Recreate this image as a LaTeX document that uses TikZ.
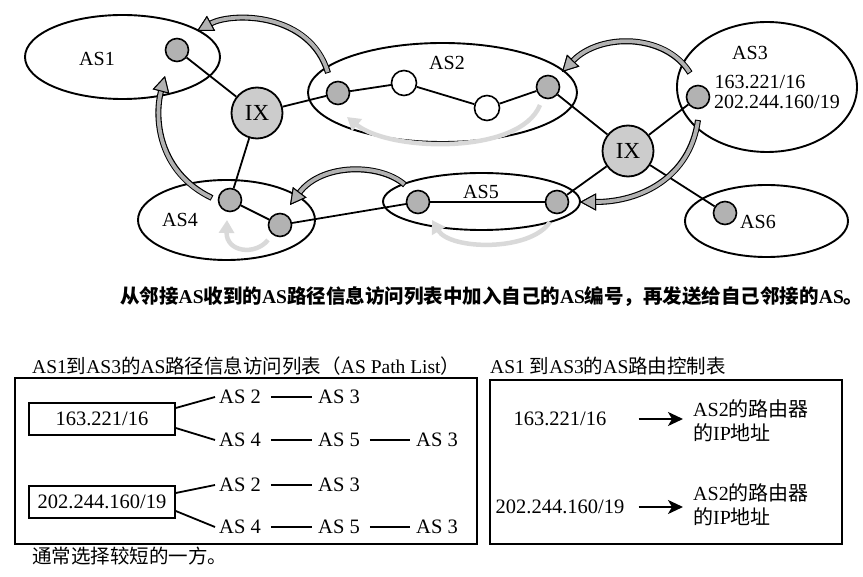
\documentclass[tikz,border=0pt]{standalone}
\usepackage{fontspec}
\setmainfont{Liberation Serif}
\newfontfamily\cjk{Noto Sans CJK SC}
\usetikzlibrary{arrows.meta}
\newcommand{\C}[1]{{\cjk #1}}
\begin{document}
\begin{tikzpicture}[x=1pt,y=-1pt,
  router/.style={circle, draw, line width=1.6pt, fill=gray!60, minimum size=23pt, inner sep=0pt},
  host/.style={circle, draw, line width=1.6pt, fill=white, minimum size=25pt, inner sep=0pt},
  ix/.style={circle, draw, line width=1.8pt, fill=gray!40, minimum size=51pt, inner sep=0pt, font=\fontsize{23}{23}\selectfont},
  link/.style={line width=1.8pt},
  asarea/.style={line width=1.9pt},
  lbl/.style={font=\fontsize{20}{22}\selectfont, inner sep=0pt},
  tbl/.style={font=\fontsize{20.5}{24}\selectfont, inner sep=0pt},
  ttl/.style={font=\fontsize{19.5}{22}\selectfont, inner sep=0pt, anchor=west},
  pbox/.style={draw, line width=1.5pt, minimum width=146pt, minimum height=32pt, inner sep=0pt, font=\fontsize{20.5}{24}\selectfont},
  darkout/.style={line width=6pt, black, -{Triangle[length=16pt,width=17pt,line width=1pt,fill=gray!60,color=black]}},
  darkin/.style={line width=3.8pt, gray!60, shorten <=1pt, -{Triangle[length=16pt,width=17pt,line width=1pt,fill=gray!60,color=black]}},
  lightarr/.style={line width=4.5pt, gray!30, -{Triangle[length=13pt,width=15pt,fill=gray!30,color=gray!30]}},
  dashln/.style={line width=1.6pt, shorten <=10pt, shorten >=6pt},
  ptr/.style={line width=2pt, -{Stealth[length=15pt,width=14pt,inset=4pt]}}
]
\useasboundingbox (0,0) rectangle (863,577);

% AS areas
\draw[asarea] (122.5,57) ellipse [x radius=97.5, y radius=42];
\draw[asarea] (442.5,92.5) ellipse [x radius=134.5, y radius=49.5];
\draw[asarea] (767,87) ellipse [x radius=90, y radius=65];
\draw[asarea] (226.5,220) ellipse [x radius=88.5, y radius=40];
\draw[asarea] (481.5,201.5) ellipse [x radius=98.5, y radius=28.5];
\draw[asarea] (766.5,221) ellipse [x radius=81.5, y radius=36];

% labels
\node[lbl] (l1) at (97,59) {AS1};
\node[lbl] (l2) at (447,63) {AS2};
\node[lbl] (l3) at (750,53) {AS3};
\node[lbl] (l3a) at (760,82) {163.221/16};
\node[lbl] (l3b) at (777,102) {202.244.160/19};
\node[lbl] (l4) at (180,220) {AS4};
\node[lbl] (l5) at (481,192) {AS5};
\node[lbl] (l6) at (758,222) {AS6};

% nodes
\node[router] (r1) at (177,50) {};
\node[ix] (ix1) at (257,113) {IX};
\node[ix] (ix2) at (628,151) {IX};
\node[router] (r2a) at (338,93) {};
\node[host] (h2a) at (404,83) {};
\node[host] (h2b) at (487,108) {};
\node[router] (r2b) at (548,87) {};
\node[router] (r3) at (698,97) {};
\node[router] (r4a) at (230,200) {};
\node[router] (r4b) at (280,225) {};
\node[router] (r5a) at (418,202) {};
\node[router] (r5b) at (557,202) {};
\node[router] (r6) at (725,213) {};

% links
\draw[link] (r1) -- (ix1);
\draw[link] (ix1) -- (r2a);
\draw[link] (ix1) -- (r4a);
\draw[link] (r4a) -- (r4b);
\draw[link] (r4b) -- (r5a);
\draw[link] (r5a) -- (r5b);
\draw[link] (r5b) -- (ix2);
\draw[link] (r2b) -- (ix2);
\draw[link] (ix2) -- (r3);
\draw[link] (ix2) -- (r6);
\draw[link] (r2a) -- (h2a);
\draw[link] (h2a) -- (h2b);
\draw[link] (h2b) -- (r2b);

% dark advertisement arrows
\coordinate (a1s) at (328,73); \coordinate (a1e) at (197,31);
\coordinate (a2s) at (212,198); \coordinate (a2e) at (165,76);
\coordinate (a3s) at (690,73); \coordinate (a3e) at (562,72);
\coordinate (a4s) at (698,120); \coordinate (a4e) at (580,202);
\coordinate (a5s) at (405,185); \coordinate (a5e) at (290,205);
\foreach \st in {darkout,darkin}{
  \draw[\st] (a1s) .. controls (310,12) and (232,12) .. (a1e);
  \draw[\st] (a2s) .. controls (158,172) and (154,118) .. (a2e);
  \draw[\st] (a3s) .. controls (665,33) and (600,33) .. (a3e);
  \draw[\st] (a4s) .. controls (690,178) and (640,202) .. (a4e);
  \draw[\st] (a5s) .. controls (380,163) and (322,163) .. (a5e);
}

% light arrows
\coordinate (b1s) at (540,105); \coordinate (b1e) at (347,117);
\coordinate (b2s) at (550,222); \coordinate (b2e) at (432,220);
\coordinate (b3s) at (268,240); \coordinate (b3e) at (227,220);
\draw[lightarr] (b1s) .. controls (520,155) and (390,152) .. (b1e);
\draw[lightarr] (b2s) .. controls (530,252) and (450,250) .. (b2e);
\draw[lightarr] (b3s) .. controls (255,256) and (226,252) .. (b3e);

% caption
\node[ttl, font=\fontsize{19.5}{22}\selectfont\bfseries] (cap) at (120,297) {\C{从邻接}AS\C{收到的}AS\C{路径信息访问列表中加入自己的}AS\C{编号，再发送给自己邻接的}AS\C{。}};

% titles
\node[ttl] (t1) at (32,366) {AS1\C{到}AS3\C{的}AS\C{路径信息访问列表（}AS Path List\C{）}};
\node[ttl] (t2) at (490,366) {AS1 \C{到}AS3\C{的}AS\C{路由控制表}};

% left table
\node[draw, line width=1.5pt, minimum width=462pt, minimum height=166pt, inner sep=0pt] (lbox) at (246,461) {};
\node[pbox] (p1) at (102,419) {163.221/16};
\node[pbox] (p2) at (102,502) {202.244.160/19};
\node[tbl] (p1a) at (240,397) {AS 2};
\node[tbl] (p1b) at (339,397) {AS 3};
\node[tbl] (p1c) at (240,440) {AS 4};
\node[tbl] (p1d) at (339,440) {AS 5};
\node[tbl] (p1e) at (437,440) {AS 3};
\node[tbl] (p2a) at (240,485) {AS 2};
\node[tbl] (p2b) at (339,485) {AS 3};
\node[tbl] (p2c) at (240,527) {AS 4};
\node[tbl] (p2d) at (339,527) {AS 5};
\node[tbl] (p2e) at (437,527) {AS 3};
\draw[link] ([yshift=11pt]p1.east) -- ([xshift=-4pt]p1a.west);
\draw[link] ([yshift=-9pt]p1.east) -- ([xshift=-4pt]p1c.west);
\draw[link] ([yshift=9pt]p2.east) -- ([xshift=-4pt]p2a.west);
\draw[link] ([yshift=-9pt]p2.east) -- ([xshift=-4pt]p2c.west);
\draw[dashln] (p1a) -- (p1b);
\draw[dashln] (p1c) -- (p1d);
\draw[dashln] (p1d) -- (p1e);
\draw[dashln] (p2a) -- (p2b);
\draw[dashln] (p2c) -- (p2d);
\draw[dashln] (p2d) -- (p2e);

% right table
\node[draw, line width=1.5pt, minimum width=352pt, minimum height=164pt, inner sep=0pt] (rbox) at (666,462) {};
\node[tbl] (q1) at (560,419) {163.221/16};
\node[tbl] (q2) at (560,507) {202.244.160/19};
\node[tbl, anchor=west, align=left, font=\fontsize{20}{24}\selectfont] (q1r) at (693,421) {AS2\C{的路由器}\\\C{的}IP\C{地址}};
\node[tbl, anchor=west, align=left, font=\fontsize{20}{24}\selectfont] (q2r) at (693,505) {AS2\C{的路由器}\\\C{的}IP\C{地址}};
\draw[ptr, shorten <=32pt, shorten >=10pt] (q1.east) -- (q1.east -| q1r.west);
\draw[ptr, shorten <=14pt, shorten >=10pt] (q2.east) -- (q2.east -| q2r.west);

% note
\node[ttl] (note) at (32,556) {\C{通常选择较短的一方。}};
\end{tikzpicture}
\end{document}
